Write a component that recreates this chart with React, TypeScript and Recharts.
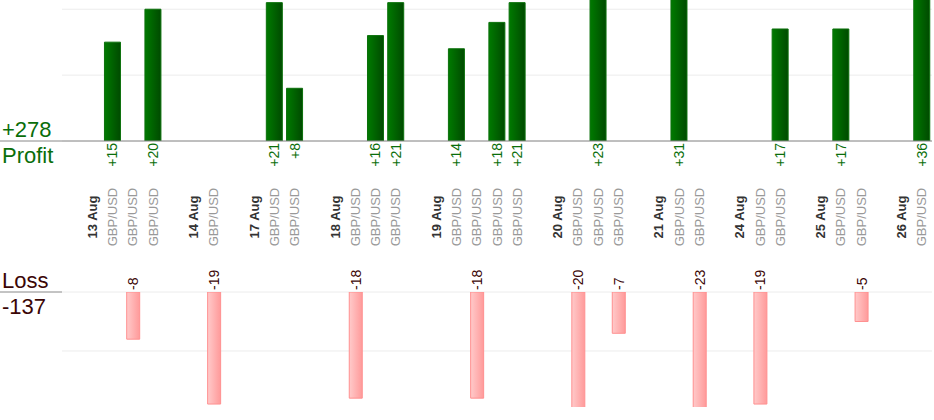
import React from 'react';
import { BarChart, Bar, XAxis, YAxis, CartesianGrid, LabelList } from 'recharts';

// one slot per column: an empty spacer, the day, then one slot per trade
const SLOT_LABELS = [
  '', '13 Aug', 'GBP/USD', 'GBP/USD', 'GBP/USD',
  '', '14 Aug', 'GBP/USD',
  '', '17 Aug', 'GBP/USD', 'GBP/USD',
  '', '18 Aug', 'GBP/USD', 'GBP/USD', 'GBP/USD',
  '', '19 Aug', 'GBP/USD', 'GBP/USD', 'GBP/USD', 'GBP/USD',
  '', '20 Aug', 'GBP/USD', 'GBP/USD', 'GBP/USD',
  '', '21 Aug', 'GBP/USD', 'GBP/USD',
  '', '24 Aug', 'GBP/USD', 'GBP/USD',
  '', '25 Aug', 'GBP/USD', 'GBP/USD',
  '', '26 Aug', 'GBP/USD',
];

const PROFIT = [
  null, null, 15, null, 20,
  null, null, null,
  null, null, 21, 8,
  null, null, null, 16, 21,
  null, null, 14, null, 18, 21,
  null, null, null, 23, null,
  null, null, 31, null,
  null, null, null, 17,
  null, null, 17, null,
  null, null, 36,
];

const LOSS = [
  null, null, null, -8, null,
  null, null, -19,
  null, null, null, null,
  null, null, -18, null, null,
  null, null, null, -18, null, null,
  null, null, -20, null, -7,
  null, null, null, -23,
  null, null, -19, null,
  null, null, null, -5,
  null, null, null,
];

const TOTAL_PROFIT = '+278';
const TOTAL_LOSS = '-137';
const PROFIT_TICKS = [0, 10, 20];
const LOSS_TICKS = [0, -10];

const rows = SLOT_LABELS.map((label, i) => ({
  slot: i,
  label,
  profit: PROFIT[i],
  loss: LOSS[i],
}));

const FONT = 'Arial, "Liberation Sans", sans-serif';
const GREEN = '#0a6e0a';
const BROWN = '#3b0606';
const AXIS = '#888888';
const AXIS_W = 62;
const W = 934;

function isDay(label: string) {
  return /Aug/.test(label);
}

function SlotTick(props: any) {
  const { x, y, payload } = props;
  const label = SLOT_LABELS[payload.value];
  if (!label) return <g />;
  const cy = y + 76;
  return (
    <text
      x={x}
      y={cy}
      transform={`rotate(-90 ${x} ${cy})`}
      textAnchor="middle"
      dominantBaseline="central"
      fontFamily={FONT}
      fontSize={13}
      fontWeight={isDay(label) ? 'bold' : 'normal'}
      fill={isDay(label) ? '#333333' : '#999999'}
    >
      {label}
    </text>
  );
}

function SideTick({ y, payload, top, bottom, color }: any) {
  if (payload.value !== 0) return <g />;
  return (
    <g>
      <line x1={0} x2={AXIS_W} y1={y} y2={y} stroke={AXIS} />
      <text x={2} y={y - 4} fontFamily={FONT} fontSize={22} fill={color}>
        {top}
      </text>
      <text x={2} y={y + 22} fontFamily={FONT} fontSize={22} fill={color}>
        {bottom}
      </text>
    </g>
  );
}

function ProfitLabel(props: any) {
  const { x, y, width, height, value } = props;
  if (value == null) return null;
  const cx = x + width / 2;
  const ty = Math.max(y, y + height) + 2;
  return (
    <text
      x={cx}
      y={ty}
      transform={`rotate(-90 ${cx} ${ty})`}
      textAnchor="end"
      dominantBaseline="central"
      fontFamily={FONT}
      fontSize={14}
      fill={GREEN}
    >
      {`+${value}`}
    </text>
  );
}

function LossLabel(props: any) {
  const { x, y, width, height, value } = props;
  if (value == null) return null;
  const cx = x + width / 2;
  const ty = Math.min(y, y + height) - 2;
  return (
    <text
      x={cx}
      y={ty}
      transform={`rotate(-90 ${cx} ${ty})`}
      textAnchor="start"
      dominantBaseline="central"
      fontFamily={FONT}
      fontSize={14}
      fill={BROWN}
    >
      {value}
    </text>
  );
}

export default function App() {
  return (
    <div style={{ position: 'absolute', left: 0, top: 0, width: W, height: 420, background: '#fff' }}>
      <BarChart width={W} height={251} data={rows} margin={{ top: 0, right: 2, left: 0, bottom: 0 }}>
        <defs>
          <linearGradient id="profitGrad" x1="0" y1="0" x2="1" y2="0">
            <stop offset="0%" stopColor="#007a00" />
            <stop offset="100%" stopColor="#004a00" />
          </linearGradient>
        </defs>
        <CartesianGrid vertical={false} stroke="#ececec" syncWithTicks />
        <XAxis
          dataKey="slot"
          type="category"
          interval={0}
          height={110}
          tickLine={false}
          tickSize={0}
          tickMargin={0}
          axisLine={{ stroke: AXIS }}
          tick={<SlotTick />}
        />
        <YAxis
          width={AXIS_W}
          domain={[0, 21.4]}
          ticks={PROFIT_TICKS}
          allowDataOverflow
          axisLine={false}
          tickLine={false}
          tick={<SideTick top={TOTAL_PROFIT} bottom="Profit" color={GREEN} />}
        />
        <Bar dataKey="profit" barSize={16} fill="url(#profitGrad)" stroke="#0b700b" isAnimationActive={false}>
          <LabelList dataKey="profit" content={<ProfitLabel />} />
        </Bar>
      </BarChart>
      <BarChart width={W} height={169} data={rows} margin={{ top: 41, right: 2, left: 0, bottom: 13 }}>
        <defs>
          <linearGradient id="lossGrad" x1="0" y1="0" x2="1" y2="0">
            <stop offset="0%" stopColor="#ffcaca" />
            <stop offset="100%" stopColor="#ff9a9a" />
          </linearGradient>
        </defs>
        <CartesianGrid vertical={false} stroke="#ececec" syncWithTicks />
        <XAxis
          dataKey="slot"
          type="category"
          orientation="top"
          height={0}
          tick={false}
          tickLine={false}
          axisLine={{ stroke: AXIS }}
        />
        <YAxis
          width={AXIS_W}
          domain={[-19.5, 0]}
          ticks={LOSS_TICKS}
          allowDataOverflow
          axisLine={false}
          tickLine={false}
          tick={<SideTick top="Loss" bottom={TOTAL_LOSS} color={BROWN} />}
        />
        <Bar dataKey="loss" barSize={13} fill="url(#lossGrad)" stroke="#ff9090" isAnimationActive={false}>
          <LabelList dataKey="loss" content={<LossLabel />} />
        </Bar>
      </BarChart>
    </div>
  );
}
